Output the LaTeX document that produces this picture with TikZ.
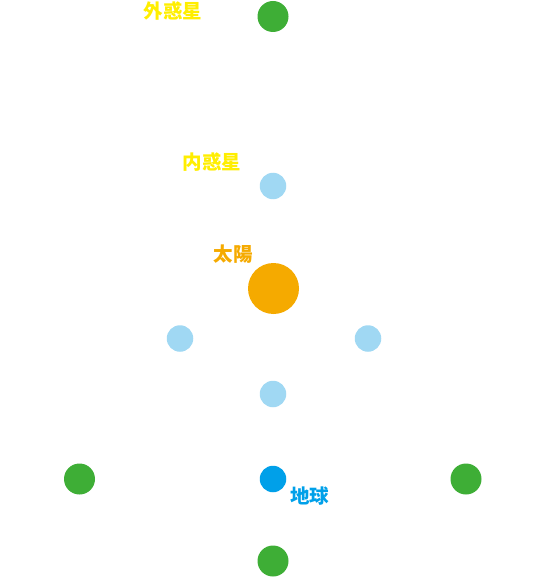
\documentclass[tikz,border=0pt]{standalone}
\usepackage{fontspec}
\newfontfamily\cjk{Noto Sans CJK JP}
\definecolor{outerg}{HTML}{3EAE36}
\definecolor{innerb}{HTML}{A0D8F3}
\definecolor{sunc}{HTML}{F5AA00}
\definecolor{earthc}{HTML}{00A0E9}
\definecolor{labely}{HTML}{FFEE00}
\begin{document}
\begin{tikzpicture}[x=1pt,y=-1pt,
  body/.style={circle,inner sep=0pt,draw=none},
  outer/.style={body,fill=outerg,minimum size=31pt},
  inner/.style={body,fill=innerb,minimum size=26.5pt},
  lbl/.style={font=\cjk\bfseries\fontsize{19.5}{21}\selectfont,inner sep=0pt}]
\useasboundingbox (0,0) rectangle (547,577);
\node[outer] (o1) at (273,16.5) {};
\node[outer] (o2) at (79.5,479) {};
\node[outer] (o3) at (466,479) {};
\node[outer] (o4) at (273,561) {};
\node[inner] (i1) at (273,186) {};
\node[inner] (i2) at (180,338.5) {};
\node[inner] (i3) at (368,338.5) {};
\node[inner] (i4) at (273,394) {};
\node[body,fill=sunc,minimum size=51pt] (sun) at (273.5,288.5) {};
\node[body,fill=earthc,minimum size=26.5pt] (earth) at (273,479) {};
\node[lbl,text=labely] (lo) at (173,11) {外惑星};
\node[lbl,text=labely] (li) at (212,162) {内惑星};
\node[lbl,text=sunc] (ls) at (233,254.5) {太陽};
\node[lbl,text=earthc] (le) at (309.5,496) {地球};
\end{tikzpicture}
\end{document}
